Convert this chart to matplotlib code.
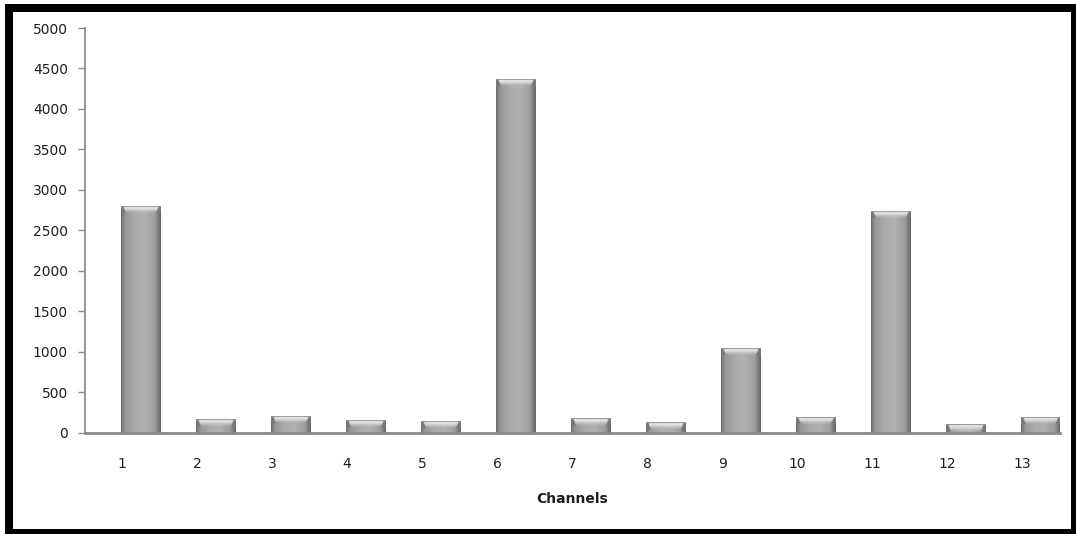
import numpy as np
import matplotlib
matplotlib.use("Agg")
import matplotlib.pyplot as plt
from matplotlib.patches import Rectangle

channels = ["1", "2", "3", "4", "5", "6", "7", "8", "9", "10", "11", "12", "13"]
values = [2800, 165, 205, 155, 145, 4370, 175, 125, 1040, 190, 2740, 100, 195]
y_ticks = [0, 500, 1000, 1500, 2000, 2500, 3000, 3500, 4000, 4500, 5000]
x_label = "Channels"

W, H = 1076, 534
fig = plt.figure(figsize=(W / 100, H / 100), dpi=100)
fig.patch.set_facecolor("white")

# black frame
def frame_rect(x0, y0, x1, y1):
    fig.patches.append(Rectangle((x0 / W, 1 - y1 / H), (x1 - x0) / W, (y1 - y0) / H,
                                 transform=fig.transFigure, facecolor="black",
                                 edgecolor="none", zorder=10))
frame_rect(5, 4, W, 12)
frame_rect(5, 4, 13, H)
frame_rect(1071, 4, W, H)
frame_rect(5, 529, W, H)

ax_l, ax_r, ax_t, ax_b = 84.5, 1060, 28, 432.5
ax = fig.add_axes([ax_l / W, 1 - ax_b / H, (ax_r - ax_l) / W, (ax_b - ax_t) / H])
ax.set_xlim(-0.5, len(channels) - 0.5)
ax.set_ylim(0, 5000)

x = np.arange(len(channels))
offset, width = 0.245, 0.52
bars = ax.bar(x + offset, values, width=width, color="#9c9c9c", edgecolor="none", zorder=2)

def hprofile(n):
    pos = np.array([0.0, 0.05, 0.12, 0.35, 0.6, 0.85, 0.93, 1.0])
    val = np.array([0.42, 0.52, 0.60, 0.67, 0.69, 0.62, 0.50, 0.40])
    t = np.linspace(0, 1, n)
    return np.interp(t, pos, val)

fig.canvas.draw()
for xi, v in zip(x, values):
    x0, x1 = xi + offset - width / 2, xi + offset + width / 2
    p0 = ax.transData.transform((x0, 0))
    p1 = ax.transData.transform((x1, v))
    npx = max(int(round(p1[0] - p0[0])) * 2, 4)
    nh = max(int(round(p1[1] - p0[1])) * 2, 4)
    prof = hprofile(npx)
    img = np.tile(prof, (nh, 1))
    bev = min(14, nh)
    t = np.linspace(0, 1, npx)
    for r in range(bev):
        frac = r / bev
        inset = 0.05 + 0.07 * frac
        inner = (t > inset) & (t < 1 - inset)
        if r < 2:
            img[r, :] = 0.58
        else:
            hl = 0.98 - 0.25 * frac
            w = frac ** 2
            img[r, inner] = hl * (1 - w) + img[r, inner] * w
            img[r, ~inner] = 0.47
    rgb = np.stack([img, img, img], axis=-1)
    ax.imshow(rgb, extent=(x0, x1, 0, v), aspect="auto", origin="upper",
              interpolation="bilinear", zorder=3)
ax.set_xlim(-0.5, len(channels) - 0.5)
ax.set_ylim(0, 5000)

for s in ["top", "right"]:
    ax.spines[s].set_visible(False)
ax.spines["left"].set_color("#8c8c8c")
ax.spines["left"].set_linewidth(1.3)
ax.spines["bottom"].set_color("#8a8a8a")
ax.spines["bottom"].set_linewidth(2.0)
ax.spines["bottom"].set_zorder(4)

ax.set_yticks(y_ticks)
ax.set_yticklabels([str(v) for v in y_ticks])
ax.set_xticks(x)
ax.set_xticklabels(channels)
ax.tick_params(axis="y", length=5, width=1, color="#8c8c8c", pad=7, labelsize=10,
               labelcolor="#1e1e1e")
ax.tick_params(axis="x", length=0, pad=17.5, labelsize=10, labelcolor="#1e1e1e")
ax.set_xlabel(x_label, fontsize=10, fontweight="bold", color="#1e1e1e", labelpad=15)

fig.savefig("out.png", dpi=100, facecolor="white")
